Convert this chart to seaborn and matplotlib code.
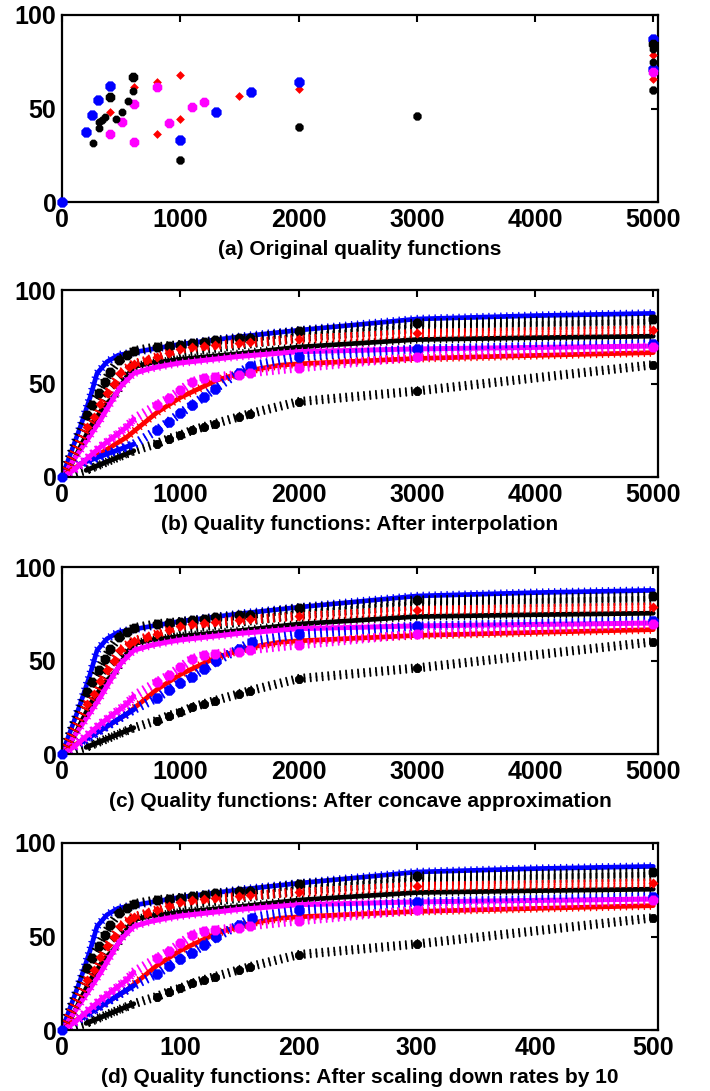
import numpy as np
import matplotlib
matplotlib.use('Agg')
import matplotlib.pyplot as plt
import matplotlib.patheffects as pe
import seaborn as sns

# ---- (a) original quality points (rate, quality) ----
b1_rate_a = [0, 205, 254, 304, 403, 5000]
b1_q_a = [0, 37.3, 46.7, 54.7, 62.2, 87.4]
b2_rate_a = [1000, 1300, 1600, 2000, 5000]
b2_q_a = [33.2, 48.3, 59.0, 64.0, 71.0]
k1_rate_a = [403, 600, 5000]
k1_q_a = [56.0, 67.0, 84.7]
k2_rate_a = [262, 459, 507, 558, 600, 5000]
k2_q_a = [31.4, 44.4, 48.0, 53.8, 59.5, 75.0]
k3_rate_a = [310, 315, 338, 360, 5000]
k3_q_a = [39.4, 42.6, 44.0, 45.3, 82.0]
k4_rate_a = [1000, 2000, 3000, 5000]
k4_q_a = [22.6, 40.3, 46.0, 60.0]
r1_rate_a = [403, 606, 803, 1000, 5000]
r1_q_a = [48.0, 61.6, 64.0, 68.0, 78.5]
r2_rate_a = [803, 1000, 1500, 2000, 5000]
r2_q_a = [36.4, 44.4, 56.5, 60.4, 66.0]
m1_rate_a = [403, 507, 606, 803, 5000]
m1_q_a = [36.4, 43.0, 52.4, 61.6, 69.6]
m2_rate_a = [606, 901, 1099, 1197]
m2_q_a = [32.0, 42.0, 51.0, 53.3]

# ---- (b) interpolated curves ----
b1_rate_b = [0, 155, 239, 296, 380, 478, 634, 1000, 1500, 2000, 3000, 4000, 5000]
b1_q_b = [0, 26.8, 42.8, 55.4, 61.6, 65.2, 67.0, 71.0, 75.0, 78.5, 84.5, 86.3, 87.5]
k1_rate_b = [0, 211, 254, 310, 360, 408, 478, 549, 606, 803, 901, 1000, 1099, 1197,
             1296, 1493, 1592, 2000, 3000, 5000]
k1_q_b = [0, 33.0, 38.4, 45.0, 51.0, 56.2, 62.5, 65.2, 67.5, 69.6, 70.2, 70.8, 71.4, 72.0,
          73.0, 74.1, 74.5, 78.0, 82.3, 84.3]
k2_rate_b = [0, 70, 239, 352, 459, 549, 606, 746, 888, 1000, 1500, 2000, 3000, 4000, 5000]
k2_q_b = [0, 5.4, 26.8, 37.5, 44.5, 54.0, 59.0, 61.0, 62.0, 63.0, 66.0, 69.5, 73.5, 74.5, 75.3]
k3_rate_b = [0, 262, 310, 338, 360, 600, 1000, 2000, 3000, 5000]
k3_q_b = [0, 31.4, 39.4, 44.0, 45.3, 60.0, 66.5, 74.5, 79.5, 82.0]
k4_rate_b = [0, 205, 606, 803, 901, 1000, 1099, 1197, 1296, 1493, 1592, 2000, 3000, 5000]
k4_q_b = [0, 3.6, 14.0, 17.9, 20.5, 22.3, 25.0, 26.8, 28.6, 32.1, 33.9, 40.3, 46.0, 60.0]
b2_rate_b = [0, 155, 606, 803, 901, 1000, 1099, 1197, 1296, 1493, 1592, 2000, 3000, 5000]
b2_q_b = [0, 7.1, 17.5, 25.0, 29.5, 34.0, 38.4, 42.8, 47.3, 55.7, 59.3, 64.3, 68.4, 71.2]
r1_rate_b = [0, 211, 267, 324, 380, 436, 493, 563, 606, 719, 803, 901, 1000, 1099, 1197,
             1296, 1493, 1592, 2000, 3000, 5000]
r1_q_b = [0, 26.8, 32.1, 39.3, 44.7, 50.0, 55.4, 58.9, 60.5, 62.5, 64.3, 66.5, 68.4, 69.3, 70.0,
          70.5, 71.4, 72.0, 73.6, 76.8, 78.6]
r2_rate_b = [0, 70, 324, 549, 803, 1000, 1310, 1592, 1845, 2000, 3000, 4000, 5000]
r2_q_b = [0, 3.6, 12.5, 21.4, 34.5, 42.5, 51.8, 57.1, 59.8, 60.5, 63.4, 65.0, 66.5]
m1_rate_b = [0, 155, 324, 493, 606, 746, 888, 1000, 1500, 2000, 3000, 4000, 5000]
m1_q_b = [0, 14.3, 30.4, 48.2, 55.4, 58.0, 59.8, 61.0, 64.5, 67.0, 68.5, 69.3, 70.0]
m2_rate_b = [0, 98, 324, 549, 606, 803, 901, 1000, 1099, 1197, 1296, 1493, 1592, 2000, 3000, 5000]
m2_q_b = [0, 3.6, 16.0, 26.8, 31.0, 38.5, 42.0, 46.4, 50.9, 52.7, 53.5, 54.8, 55.8, 58.4, 64.3, 69.6]

# ---- (c) concave approximation: only the lower blue curve visibly changes ----
b2_rate_c = [0, 155, 606, 803, 901, 1000, 1099, 1197, 1304, 1500, 1606, 2000, 3000, 5000]
b2_q_c = [0, 6.0, 23.7, 30.0, 34.0, 38.0, 41.3, 45.2, 49.5, 56.4, 60.1, 64.1, 68.4, 71.2]

orig = {
    'r1': (r1_rate_a, r1_q_a), 'r2': (r2_rate_a, r2_q_a),
    'b1': (b1_rate_a, b1_q_a), 'b2': (b2_rate_a, b2_q_a),
    'm1': (m1_rate_a, m1_q_a), 'm2': (m2_rate_a, m2_q_a),
    'k2': (k2_rate_a, k2_q_a), 'k3': (k3_rate_a, k3_q_a),
    'k4': (k4_rate_a, k4_q_a), 'k1': (k1_rate_a, k1_q_a),
}
curves_b = {
    'b1': (b1_rate_b, b1_q_b), 'k2': (k2_rate_b, k2_q_b), 'm1': (m1_rate_b, m1_q_b),
    'r2': (r2_rate_b, r2_q_b), 'k3': (k3_rate_b, k3_q_b), 'k4': (k4_rate_b, k4_q_b),
    'b2': (b2_rate_b, b2_q_b), 'm2': (m2_rate_b, m2_q_b), 'k1': (k1_rate_b, k1_q_b),
    'r1': (r1_rate_b, r1_q_b),
}
curves_c = dict(curves_b, b2=(b2_rate_c, b2_q_c))

# drawing styles
style = {
    'b1': dict(color='blue', kind='solid', lw=3.4),
    'k2': dict(color='black', kind='solid', lw=3.4),
    'm1': dict(color='magenta', kind='solid', lw=3.6),
    'r2': dict(color='red', kind='solid', lw=3.4),
    'k3': dict(color='black', kind='ticked'),
    'k4': dict(color='black', kind='ticked', band=(205, 606), mark_from=803, marker='8', s=48),
    'b2': dict(color='blue', kind='ticked', band=(155, 606), mark_from=803, marker='8', s=66),
    'm2': dict(color='magenta', kind='ticked', band=(0, 606), mark_from=803, marker='8', s=60),
    'k1': dict(color='black', kind='ticked', mark_from=200, marker='8', s=58),
    'r1': dict(color='red', kind='ticked', mark_from=200, marker='D', s=26),
}
orig_style = {
    'b1': ('blue', '8', 64), 'b2': ('blue', '8', 64),
    'k1': ('black', '8', 56), 'k2': ('black', '8', 36), 'k3': ('black', '8', 36),
    'k4': ('black', '8', 42), 'r1': ('red', 'D', 20), 'r2': ('red', 'D', 20),
    'm1': ('magenta', '8', 56), 'm2': ('magenta', '8', 56),
}

sns.set_theme(style='white')
plt.rcParams['font.family'] = ['Liberation Sans', 'DejaVu Sans']
plt.rcParams['font.weight'] = 'bold'


def ticks_fx(lw=1.3, spacing=4.3, length=0.65):
    # vertical-ish tick marks on both sides of the path, no base line
    return [pe.TickedStroke(angle=90, spacing=spacing, length=length, linewidth=lw),
            pe.TickedStroke(angle=-90, spacing=spacing, length=length, linewidth=lw)]


def style_axes(ax, xmax, xticks, caption):
    ax.set_xlim(0, xmax)
    ax.set_ylim(0, 100)
    ax.set_xticks(xticks)
    ax.set_yticks([0, 50, 100])
    ax.tick_params(direction='in', length=5, width=1.5, top=True, right=True,
                   labelsize=18, pad=4, colors='black')
    for sp in ax.spines.values():
        sp.set_linewidth(1.6)
        sp.set_color('black')
    ax.set_xlabel(caption, fontsize=15, fontweight='bold', labelpad=6, color='black')
    ax.set_ylabel('')


def draw_curves(ax, curves, scale):
    for name, (rate, q) in curves.items():
        st = style[name]
        x = np.array(rate) / scale
        y = np.array(q)
        if st['kind'] == 'solid':
            sns.lineplot(x=x, y=y, ax=ax, color=st['color'], linewidth=st['lw'],
                         estimator=None, sort=False, legend=False,
                         path_effects=[pe.Normal()] + ticks_fx(lw=1.0, length=0.6))
        else:
            sns.lineplot(x=x, y=y, ax=ax, color=st['color'], linewidth=1.5,
                         estimator=None, sort=False, legend=False,
                         path_effects=ticks_fx())
            if 'band' in st:
                lo, hi = st['band']
                sel = (np.array(rate) >= lo) & (np.array(rate) <= hi)
                sns.lineplot(x=x[sel], y=y[sel], ax=ax, color=st['color'], linewidth=3.6,
                             estimator=None, sort=False, legend=False,
                             path_effects=[pe.Normal()] + ticks_fx(lw=1.0, length=0.6))
            if 'mark_from' in st:
                sel = np.array(rate) >= st['mark_from']
                sns.scatterplot(x=x[sel], y=y[sel], ax=ax, color=st['color'],
                                marker=st['marker'], s=st['s'], linewidth=0,
                                legend=False, clip_on=False, zorder=5)
    # shared origin point of all curves
    x0, y0 = curves['b1']
    sns.scatterplot(x=[x0[0] / scale], y=[y0[0]], ax=ax, color='blue', marker='8', s=60,
                    linewidth=0, legend=False, clip_on=False, zorder=6)


fig = plt.figure(figsize=(7.1, 10.91), dpi=100)
left, width, height = 62 / 710, 596 / 710, 187 / 1091
bottoms = [1 - 202 / 1091, 1 - 477 / 1091, 1 - 754 / 1091, 1 - 1030 / 1091]
axes = [fig.add_axes([left, b, width, height]) for b in bottoms]

# (a) original points
ax = axes[0]
for name, (rate, q) in orig.items():
    c, m, s = orig_style[name]
    sns.scatterplot(x=rate, y=q, ax=ax, color=c, marker=m, s=s, linewidth=0,
                    legend=False, clip_on=False, zorder=4)
style_axes(ax, 5040, [0, 1000, 2000, 3000, 4000, 5000], '(a) Original quality functions')

draw_curves(axes[1], curves_b, 1)
style_axes(axes[1], 5040, [0, 1000, 2000, 3000, 4000, 5000],
           '(b) Quality functions: After interpolation')

draw_curves(axes[2], curves_c, 1)
style_axes(axes[2], 5040, [0, 1000, 2000, 3000, 4000, 5000],
           '(c) Quality functions: After concave approximation')

draw_curves(axes[3], curves_c, 10)
style_axes(axes[3], 504, [0, 100, 200, 300, 400, 500],
           '(d) Quality functions: After scaling down rates by 10')

fig.savefig('out.png', dpi=100, facecolor='white')
